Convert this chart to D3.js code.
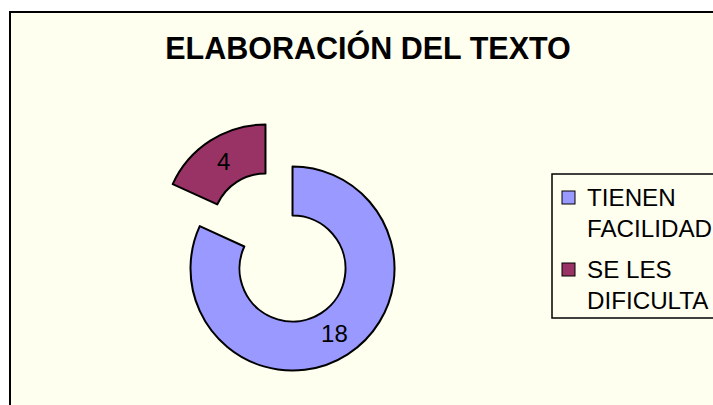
<!DOCTYPE html>
<html>
<head>
<meta charset="utf-8">
<script src="https://cdn.jsdelivr.net/npm/d3@7.9.0/dist/d3.min.js"></script>
<style>
  html, body { margin: 0; padding: 0; background: #fff; }
  svg { display: block; font-family: "Liberation Sans", Arial, sans-serif; }
</style>
</head>
<body>
<svg id="chart" width="713" height="405"></svg>
<script>
const title = 'ELABORACIÓN DEL TEXTO';
const categories = ['TIENEN FACILIDAD', 'SE LES DIFICULTA'];
const values = [18, 4];
const colors = ['#9999FF', '#993366'];

const svg = d3.select('#chart');

// chart area (runs off right and bottom like the source)
svg.append('rect')
  .attr('x', 10).attr('y', 12)
  .attr('width', 720).attr('height', 410)
  .attr('fill', '#FFFFF0')
  .attr('stroke', '#000')
  .attr('stroke-width', 2);

svg.append('text')
  .attr('x', 368).attr('y', 59)
  .attr('text-anchor', 'middle')
  .attr('font-size', 30.5)
  .attr('font-weight', 'bold')
  .text(title);

let data = categories.map((c, i) => ({ label: c, value: values[i], color: colors[i] }));

let pie = d3.pie().sort(null).value(d => d.value);
let arc = d3.arc().innerRadius(53).outerRadius(102);
let center = [279, 247.5];
let explode = 25;

let slices = svg.append('g')
  .attr('transform', `translate(${center})`)
  .selectAll('g')
  .data(pie(data))
  .join('g')
  .attr('transform', d => {
    let a = (d.startAngle + d.endAngle) / 2;
    return `translate(${Math.sin(a) * explode},${-Math.cos(a) * explode})`;
  });

slices.append('path')
  .attr('d', arc)
  .attr('fill', d => d.data.color)
  .attr('stroke', '#000')
  .attr('stroke-width', 2)
  .attr('stroke-linejoin', 'round');

slices.append('text')
  .attr('transform', d => `translate(${arc.centroid(d)})`)
  .attr('text-anchor', 'middle')
  .attr('dy', '0.36em')
  .attr('font-size', 24)
  .attr('fill', '#000')
  .text(d => d.data.value);

// legend
let legend = svg.append('g');
legend.append('rect')
  .attr('x', 552).attr('y', 174)
  .attr('width', 200).attr('height', 144)
  .attr('fill', '#FFFFF0')
  .attr('stroke', '#000')
  .attr('stroke-width', 1.5);

let items = legend.selectAll('g.item')
  .data(data)
  .join('g')
  .attr('class', 'item')
  .attr('transform', (d, i) => `translate(0,${i * 72})`);

items.append('rect')
  .attr('x', 562).attr('y', 191)
  .attr('width', 13).attr('height', 13)
  .attr('fill', d => d.color)
  .attr('stroke', '#000')
  .attr('stroke-width', 1);

items.append('text')
  .attr('font-size', 24.2)
  .selectAll('tspan')
  .data(d => {
    let k = d.label.lastIndexOf(' ');
    return d.label === 'TIENEN FACILIDAD'
      ? [d.label.slice(0, d.label.indexOf(' ')), d.label.slice(d.label.indexOf(' ') + 1)]
      : [d.label.slice(0, k), d.label.slice(k + 1)];
  })
  .join('tspan')
  .attr('x', 587)
  .attr('y', (d, i) => 206 + i * 31)
  .text(d => d);
</script>
</body>
</html>
